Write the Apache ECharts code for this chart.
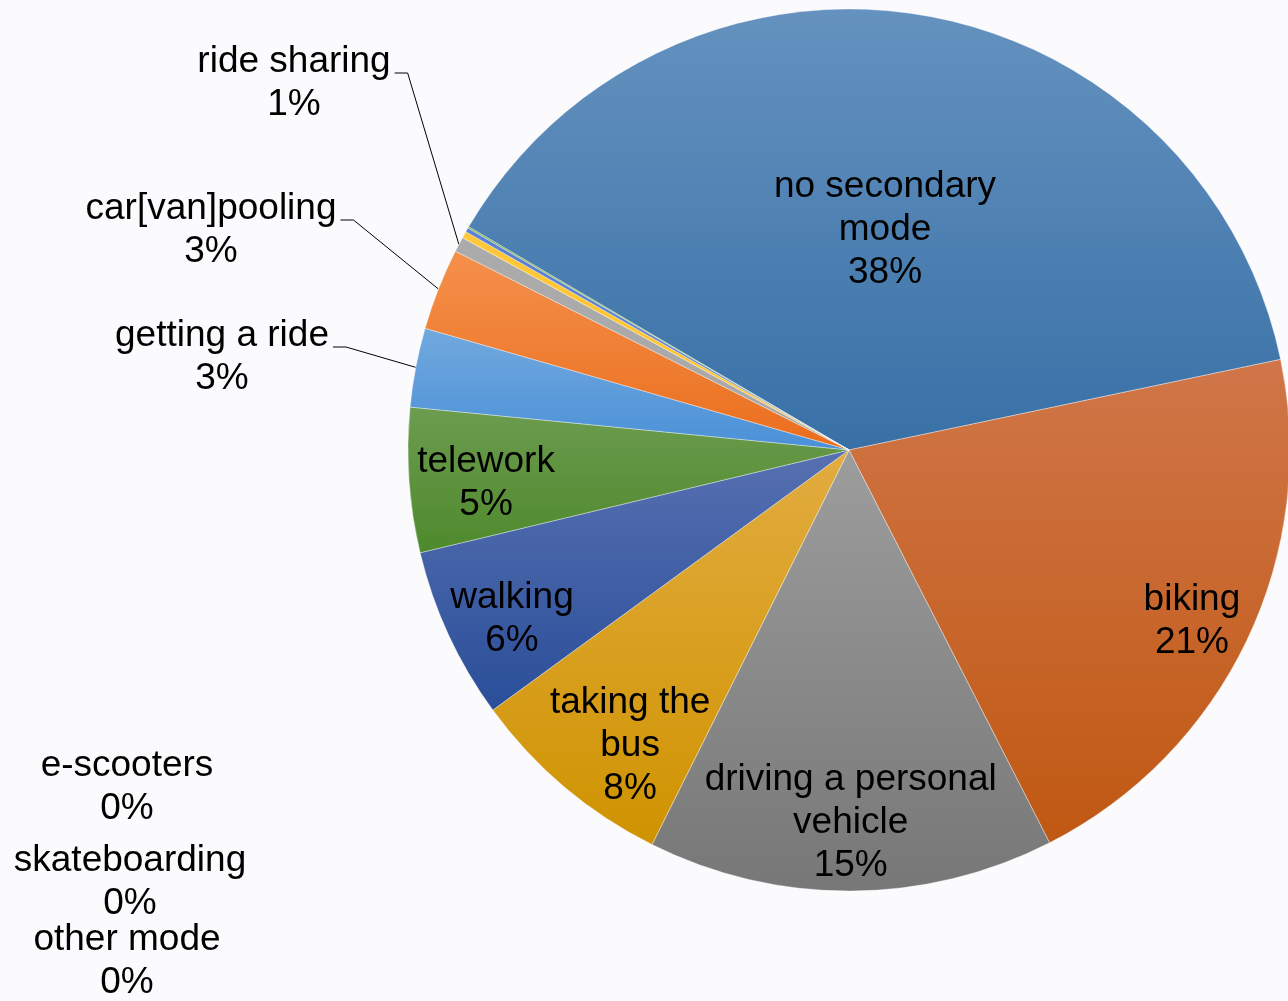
<!DOCTYPE html>
<html>
<head>
<meta charset="utf-8">
<script src="https://cdn.jsdelivr.net/npm/echarts@6/dist/echarts.min.js"></script>
<style>
  html, body { margin: 0; padding: 0; background: #fbfbfd; }
  #main { width: 1288px; height: 1001px; }
</style>
</head>
<body>
<div id="main"></div>
<script>
// secondary commute mode shares (percent of respondents)
var categories = ["no secondary mode", "biking", "driving a personal vehicle", "taking the bus", "walking", "telework",
  "getting a ride", "car[van]pooling", "ride sharing", "e-scooters", "skateboarding", "other mode"];
var shares = [38.3, 20.8, 14.9, 7.6, 6.3, 5.3, 2.9, 3.0, 0.55, 0.25, 0.15, 0.05];
var labelText = ["no secondary\nmode", "biking", "driving a personal\nvehicle", "taking the\nbus", "walking", "telework",
  "getting a ride", "car[van]pooling", "ride sharing", "e-scooters", "skateboarding", "other mode"];

var topColors = ["#6592bf", "#d07649", "#9d9d9d", "#e2ac40", "#5770b1", "#6c9c4f", "#72a9de", "#f5904c", "#ababab", "#ffc838", "#5c80d3", "#72ae48"];
var bottomColors = ["#3870a6", "#c05812", "#777777", "#cf9300", "#2a4e99", "#4e892c", "#4a90d7", "#ea6e1c", "#a8a8a8", "#ffc22c", "#5479cc", "#6aa840"];

var R = 441;
var CX = 849, CY = 450;

// where the small-slice labels sit (label centre), and whether a leader line is drawn
var outsideSpots = {
  6: [222, 357, true],
  7: [211, 230, true],
  8: [294, 83, true],
  9: [127, 787, false],
  10: [130, 882, false],
  11: [127, 961, false]
};
// small shifts of the rim labels (best-fit placement in the original)
var ringNudge = { 1: [2, 8], 2: [0, -5], 3: [25, 7], 4: [6, 11], 5: [14, 7] };

var font = { fontFamily: "Liberation Sans, Arial, sans-serif", fontSize: 37, lineHeight: 43, color: "#000" };

function fmt(p) {
  return labelText[p.dataIndex] + "\n" + Math.round(p.percent) + "%";
}

var mainData = categories.map(function (name, i) {
  var item = {
    name: name,
    value: shares[i],
    itemStyle: {
      color: new echarts.graphic.LinearGradient(0, 0, 0, 1, [
        { offset: 0, color: topColors[i] },
        { offset: 1, color: bottomColors[i] }
      ])
    }
  };
  if (i === 0) {
    item.label = { show: true, position: "inside" };
    item.labelLine = { show: false };
  } else if (outsideSpots[i]) {
    item.label = { show: true, position: "outside" };
    item.labelLine = { show: outsideSpots[i][2] };
  } else {
    item.label = { show: false };
    item.labelLine = { show: false };
  }
  return item;
});

// transparent ring so the bigger slices get their labels near the rim
var ringData = categories.map(function (name, i) {
  return {
    name: name,
    value: shares[i],
    label: { show: i >= 1 && i <= 5 }
  };
});

var myChart = echarts.init(document.getElementById("main"));
myChart.setOption({
  backgroundColor: "#fbfbfd",
  animation: false,
  series: [
    {
      type: "pie",
      center: [CX, CY],
      radius: R,
      startAngle: 149.6,
      clockwise: true,
      avoidLabelOverlap: false,
      silent: true,
      itemStyle: { borderColor: "rgba(255,255,255,0.6)", borderWidth: 0.6 },
      label: Object.assign({ formatter: fmt, align: "center", overflow: "none" }, font),
      labelLine: { length: 20, length2: 20, lineStyle: { color: "#000", width: 1 } },
      labelLayout: function (params) {
        var spot = outsideSpots[params.dataIndex];
        if (!spot) return;
        var res = { x: spot[0], y: spot[1], align: "center", verticalAlign: "middle" };
        if (spot[2] && params.labelLinePoints) {
          var right = spot[0] + params.labelRect.width / 2;
          var pts = params.labelLinePoints;
          var ly = spot[1] - 10;
          res.labelLinePoints = [pts[0], [right + 17, ly], [right + 4, ly]];
        }
        return res;
      },
      data: mainData
    },
    {
      type: "pie",
      center: [CX, CY],
      radius: [R * 0.7, R],
      startAngle: 149.6,
      clockwise: true,
      silent: true,
      avoidLabelOverlap: false,
      itemStyle: { color: "rgba(0,0,0,0)" },
      label: Object.assign({ position: "inside", formatter: fmt, align: "center" }, font),
      labelLine: { show: false },
      labelLayout: function (params) {
        var n = ringNudge[params.dataIndex];
        if (!n) return;
        return { dx: n[0], dy: n[1] };
      },
      data: ringData
    }
  ]
});
</script>
</body>
</html>
